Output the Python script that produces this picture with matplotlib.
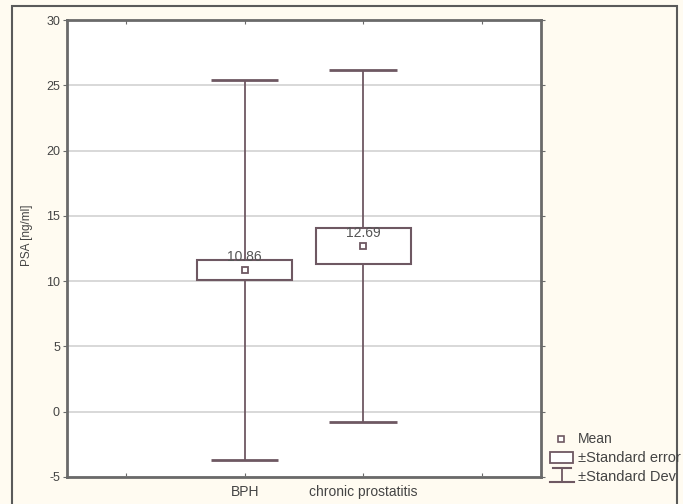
import matplotlib
matplotlib.use("Agg")
import matplotlib.pyplot as plt
from matplotlib.patches import Rectangle
from matplotlib.lines import Line2D

categories = ["BPH", "chronic prostatitis"]
positions = [1.5, 2.5]
means = [10.86, 12.69]
std_err = [0.76, 1.38]
std_dev = [14.58, 13.45]
mean_labels = ["10.86", "12.69"]

y_ticks = [-5, 0, 5, 10, 15, 20, 25, 30]
x_ticks = [0.5, 1.5, 2.5, 3.5]
x_tick_labels = ["", "BPH", "chronic prostatitis", ""]

mark_color = "#6e5862"
spine_color = "#6a6a6a"
text_color = "#444444"
plt.rcParams['font.family'] = ['Liberation Sans', 'DejaVu Sans']
plt.rcParams['axes.unicode_minus'] = False

fig = plt.figure(figsize=(6.83, 5.04), dpi=100)
fig.patch.set_facecolor("#fffbf1")
ax = fig.add_axes([0.098, 0.0536, 0.694, 0.9066])
ax.set_facecolor("white")

# outer frame of the figure
fig.add_artist(Rectangle((12 / 683, -0.01), 665 / 683, 1 - 6 / 504 + 0.01,
                         transform=fig.transFigure, fill=False,
                         edgecolor="#5a5a5a", linewidth=1.5))

box_w = 0.8
cap_w = 0.57
for x, m, se, sd, lab in zip(positions, means, std_err, std_dev, mean_labels):
    ax.vlines(x, m - sd, m + sd, color=mark_color, linewidth=1.3, zorder=3)
    ax.hlines([m - sd, m + sd], x - cap_w / 2, x + cap_w / 2,
              color=mark_color, linewidth=2, zorder=3)
    ax.add_patch(Rectangle((x - box_w / 2, m - se), box_w, 2 * se,
                           facecolor="white", edgecolor=mark_color,
                           linewidth=1.5, zorder=4))
    ax.plot([x], [m], marker="s", markersize=5, markerfacecolor="white",
            markeredgecolor=mark_color, markeredgewidth=1.3, zorder=5)
    ax.annotate(lab, (x, m), xytext=(0, 4), textcoords="offset points",
                ha="center", va="bottom", fontsize=10, color="#555555", zorder=6)

ax.set_xlim(0, 4)
ax.set_ylim(-5, 30)
ax.set_yticks(y_ticks)
ax.set_xticks(x_ticks)
ax.set_xticklabels(x_tick_labels)
ax.yaxis.grid(True, color="#d6d6d6", linewidth=1.3)
ax.set_axisbelow(True)

ax.tick_params(axis="y", left=True, right=True, direction="out", length=3,
               labelsize=9, labelcolor=text_color, color=spine_color, pad=2)
ax.tick_params(axis="x", top=True, bottom=True, direction="in", length=3,
               labelsize=10, labelcolor=text_color, color=spine_color, pad=6)
for s in ax.spines.values():
    s.set_color(spine_color)
    s.set_linewidth(2)

ax.set_ylabel("PSA [ng/ml]", fontsize=8.5, color=text_color)
ax.yaxis.set_label_coords(-0.071, 0.53)

# legend drawn beside the plot
tf = fig.transFigure
def fx(px):
    return px / 683
def fy(py):
    return 1 - py / 504

fig.add_artist(Line2D([fx(561)], [fy(439)], marker="s", markersize=4.5,
                      markerfacecolor="white", markeredgecolor=mark_color,
                      markeredgewidth=1.2, transform=tf))
fig.add_artist(Rectangle((fx(550), fy(463)), fx(23), 11 / 504, transform=tf,
                         facecolor="white", edgecolor=mark_color, linewidth=1.3))
fig.add_artist(Line2D([fx(553), fx(571)], [fy(468), fy(468)], color=mark_color,
                      linewidth=1.5, transform=tf))
fig.add_artist(Line2D([fx(562), fx(562)], [fy(468), fy(482)], color=mark_color,
                      linewidth=1.3, transform=tf))
fig.add_artist(Line2D([fx(550), fx(574)], [fy(482), fy(482)], color=mark_color,
                      linewidth=1.5, transform=tf))
fig.text(fx(578), fy(439), "Mean", fontsize=10, color=text_color, va="center")
fig.text(fx(578), fy(458), "±Standard error", fontsize=10.5, color=text_color, va="center")
fig.text(fx(578), fy(477), "±Standard Dev", fontsize=10.5, color=text_color, va="center")

fig.savefig("out.png", dpi=100, facecolor=fig.get_facecolor())
